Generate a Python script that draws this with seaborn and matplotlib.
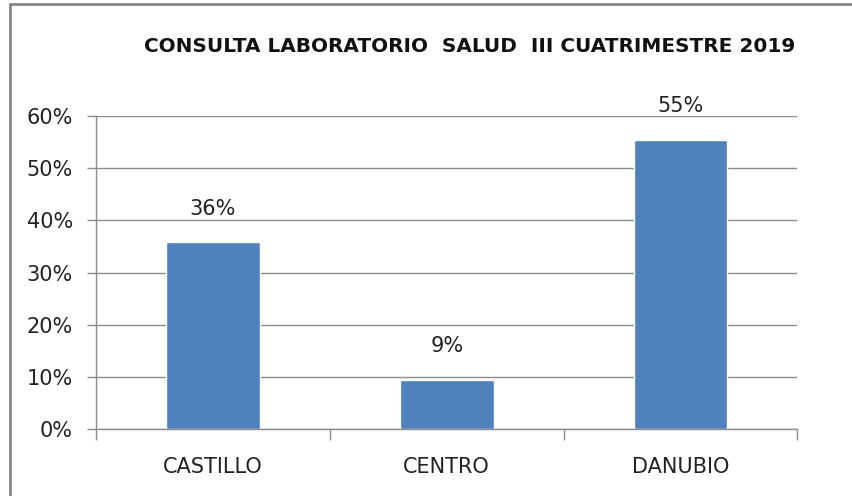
import matplotlib
matplotlib.use('Agg')
import matplotlib.pyplot as plt
from matplotlib.lines import Line2D
from matplotlib.ticker import PercentFormatter, FixedLocator
import seaborn as sns
import pandas as pd

# data
centros = ['CASTILLO', 'CENTRO', 'DANUBIO']
porcentajes = [0.358, 0.094, 0.554]
etiquetas = ['36%', '9%', '55%']
titulo = 'CONSULTA LABORATORIO  SALUD  III CUATRIMESTRE 2019'

df = pd.DataFrame({'centro': centros, 'pct': porcentajes})

sns.set_style('white')
plt.rcParams['font.family'] = ['Liberation Sans Narrow', 'DejaVu Sans']

fig = plt.figure(figsize=(8.52, 4.96), dpi=100)
ax = fig.add_axes([0.1127, 0.135, 0.8233, 0.631])

sns.barplot(data=df, x='centro', y='pct', color='#4F81BD', width=0.4,
            saturation=1, ax=ax)

grid_col = '#8C8C8C'
ax.set_ylim(0, 0.6)
ax.set_xlim(-0.5, 2.5)
ax.set_yticks([0, 0.1, 0.2, 0.3, 0.4, 0.5, 0.6])
ax.yaxis.set_major_formatter(PercentFormatter(1.0, decimals=0))
ax.yaxis.grid(True, color=grid_col, linewidth=1)
ax.set_axisbelow(True)

for s in ['top', 'right']:
    ax.spines[s].set_visible(False)
for s in ['left', 'bottom']:
    ax.spines[s].set_color(grid_col)
    ax.spines[s].set_linewidth(1)

ax.tick_params(axis='y', length=6.5, color=grid_col, width=1, pad=10,
               labelsize=15, labelcolor='#222222', left=True)
ax.tick_params(axis='x', which='major', length=0, pad=20, labelsize=15,
               labelcolor='#222222')
ax.xaxis.set_minor_locator(FixedLocator([-0.5, 0.5, 1.5, 2.5]))
ax.tick_params(axis='x', which='minor', length=8, color=grid_col, width=1,
               bottom=True)

ax.set_xlabel('')
ax.set_ylabel('')

for i, (v, lab) in enumerate(zip(porcentajes, etiquetas)):
    ax.annotate(lab, (i, v), xytext=(0, 17), textcoords='offset points',
                ha='center', va='bottom', fontsize=15, color='#222222')

fig.text(0.551, 0.907, titulo, ha='center', va='center', fontsize=14.4,
         fontweight='bold', color='#111111')

# frame lines of the chart area (top and left visible in the crop)
border = '#888888'
fig.add_artist(Line2D([0.0117, 1.0], [0.992, 0.992], color=border, lw=2,
                      transform=fig.transFigure))
fig.add_artist(Line2D([0.0117, 0.0117], [0.0, 0.992], color=border, lw=2,
                      transform=fig.transFigure))

fig.savefig('out.png', dpi=100)
